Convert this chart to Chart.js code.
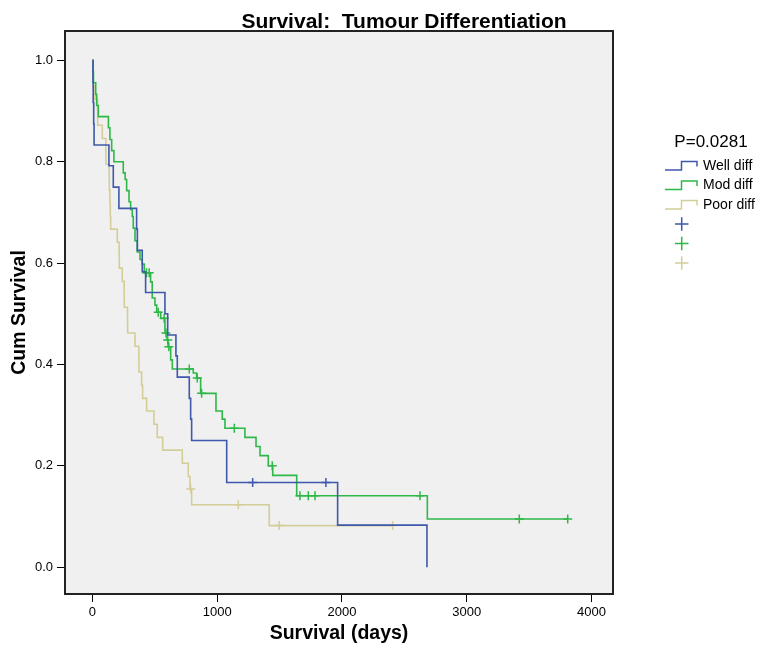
<!DOCTYPE html>
<html>
<head>
<meta charset="utf-8">
<script src="https://cdn.jsdelivr.net/npm/chart.js@4/dist/chart.umd.min.js"></script>
<style>
  html, body { margin: 0; padding: 0; background: #ffffff; }
  canvas { display: block; }
</style>
</head>
<body>
<canvas id="km" width="760" height="650"></canvas>
<script>
// Kaplan-Meier estimates: event times (days) and survival after each event
const wellDays = [0, 4, 6, 10, 13, 132, 167, 212, 354, 360, 399, 426, 581, 603, 669, 680, 776, 787, 795, 1076, 1965, 2681];
const wellSurv = [1, 0.958, 0.917, 0.875, 0.833, 0.792, 0.75, 0.708, 0.667, 0.625, 0.583, 0.542, 0.5, 0.458, 0.417, 0.375, 0.333, 0.292, 0.25, 0.167, 0.083, 0];
const wellCensDays = [1284, 1871];
const wellCensSurv = [0.167, 0.167];

const modDays = [0, 6, 8, 26, 34, 47, 128, 140, 154, 172, 247, 262, 274, 293, 306, 319, 327, 341, 359, 381, 399, 415, 466, 479, 501, 515, 547, 581, 598, 606, 627, 640, 808, 835, 867, 990, 1040, 1062, 1222, 1311, 1343, 1409, 1445, 1637, 2684, 3809];
const modSurv = [1, 0.978, 0.956, 0.933, 0.911, 0.889, 0.867, 0.844, 0.822, 0.8, 0.778, 0.765, 0.743, 0.721, 0.706, 0.692, 0.669, 0.644, 0.622, 0.607, 0.598, 0.581, 0.563, 0.531, 0.517, 0.503, 0.491, 0.462, 0.448, 0.435, 0.409, 0.391, 0.383, 0.373, 0.343, 0.308, 0.292, 0.274, 0.256, 0.238, 0.22, 0.2, 0.181, 0.141, 0.095, 0.095];
const modCensDays = [433, 455, 527, 575, 589, 603, 612, 776, 840, 875, 1137, 1441, 1663, 1730, 1784, 2625, 3421, 3809];
const modCensSurv = [0.581, 0.581, 0.503, 0.491, 0.462, 0.448, 0.435, 0.391, 0.373, 0.343, 0.274, 0.2, 0.141, 0.141, 0.141, 0.141, 0.095, 0.095];

const poorDays = [0, 3, 6, 20, 41, 42, 79, 107, 108, 134, 135, 140, 143, 146, 199, 214, 215, 239, 254, 255, 281, 282, 341, 372, 373, 394, 402, 434, 493, 519, 563, 720, 768, 782, 795, 1417, 2406];
const poorSurv = [1, 0.974, 0.949, 0.923, 0.897, 0.872, 0.846, 0.821, 0.795, 0.769, 0.744, 0.718, 0.692, 0.667, 0.641, 0.615, 0.59, 0.564, 0.538, 0.513, 0.487, 0.462, 0.436, 0.41, 0.385, 0.359, 0.333, 0.308, 0.282, 0.256, 0.231, 0.205, 0.179, 0.154, 0.123, 0.082, 0.082];
const poorCensDays = [787, 1169, 1497, 2406];
const poorCensSurv = [0.154, 0.123, 0.082, 0.082];

const groupLabels = ['Well diff', 'Mod diff', 'Poor diff'];
const xTickValues = [0, 1000, 2000, 3000, 4000];
const yTickValues = [0, 0.2, 0.4, 0.6, 0.8, 1.0];
const chartTitle = 'Survival:  Tumour Differentiation';
const xTitle = 'Survival (days)';
const yTitle = 'Cum Survival';
const pValueText = 'P=0.0281';

const FONT = '"Liberation Sans", Arial, Helvetica, sans-serif';
const groupColors = ['#3e58ac', '#2eb848', '#d3ce97'];

const groups = [
  { days: wellDays, surv: wellSurv, cDays: wellCensDays, cSurv: wellCensSurv },
  { days: modDays, surv: modSurv, cDays: modCensDays, cSurv: modCensSurv },
  { days: poorDays, surv: poorSurv, cDays: poorCensDays, cSurv: poorCensSurv }
];

const datasets = [];
groups.forEach((g, i) => {
  datasets.push({
    type: 'line',
    label: groupLabels[i],
    data: g.days.map((d, k) => ({ x: d, y: g.surv[k] })),
    borderColor: groupColors[i],
    borderWidth: 1.6,
    stepped: 'before',
    pointRadius: 0,
    fill: false,
    tension: 0
  });
});
groups.forEach((g, i) => {
  datasets.push({
    type: 'scatter',
    label: groupLabels[i] + ' censored',
    data: g.cDays.map((d, k) => ({ x: d, y: g.cSurv[k] })),
    pointStyle: 'cross',
    pointRadius: 4.5,
    borderColor: groupColors[i],
    backgroundColor: groupColors[i],
    borderWidth: 1.5,
    showLine: false
  });
});

// Plot panel background, frame, heading and the side key
const panel = {
  id: 'panel',
  beforeDraw(chart) {
    const { ctx, chartArea: a } = chart;
    ctx.save();
    ctx.fillStyle = '#f0f0f0';
    ctx.fillRect(a.left, a.top, a.right - a.left, a.bottom - a.top);
    ctx.restore();
  },
  afterDraw(chart) {
    const { ctx, chartArea: a } = chart;
    ctx.save();
    ctx.strokeStyle = '#222222';
    ctx.lineWidth = 2;
    ctx.strokeRect(a.left, a.top, a.right - a.left, a.bottom - a.top);

    ctx.fillStyle = '#000';
    ctx.textAlign = 'center';
    ctx.textBaseline = 'alphabetic';
    ctx.font = 'bold 21px ' + FONT;
    ctx.fillText(chartTitle, 404, 28);

    ctx.font = '17px ' + FONT;
    ctx.fillText(pValueText, 711, 147);

    ctx.textAlign = 'left';
    ctx.textBaseline = 'middle';
    ctx.font = '14px ' + FONT;
    const rowY = [166, 185.5, 205];
    groupLabels.forEach((lab, i) => {
      const y = rowY[i];
      ctx.strokeStyle = groupColors[i];
      ctx.lineWidth = 1.5;
      ctx.beginPath();
      ctx.moveTo(665, y + 4);
      ctx.lineTo(681.5, y + 4);
      ctx.lineTo(681.5, y - 4.5);
      ctx.lineTo(697, y - 4.5);
      ctx.lineTo(697, y + 0.5);
      ctx.stroke();
      ctx.fillStyle = '#000';
      ctx.fillText(lab, 703, y);
    });
    const crossY = [224, 243.5, 263];
    groupLabels.forEach((lab, i) => {
      const y = crossY[i];
      ctx.strokeStyle = groupColors[i];
      ctx.lineWidth = 1.5;
      ctx.beginPath();
      ctx.moveTo(675, y);
      ctx.lineTo(688.5, y);
      ctx.moveTo(681.7, y - 6.7);
      ctx.lineTo(681.7, y + 6.7);
      ctx.stroke();
    });
    ctx.restore();
  }
};

new Chart(document.getElementById('km'), {
  type: 'line',
  data: { datasets },
  plugins: [panel],
  options: {
    responsive: false,
    animation: false,
    devicePixelRatio: 1,
    events: [],
    layout: { padding: { top: 31, right: 147, left: 0, bottom: 0 } },
    plugins: {
      legend: { display: false },
      tooltip: { enabled: false },
      title: { display: false }
    },
    scales: {
      x: {
        type: 'linear',
        min: -220,
        max: 4172,
        afterBuildTicks: s => { s.ticks = xTickValues.map(v => ({ value: v })); },
        afterFit: s => { s.height = 56; },
        ticks: {
          callback: v => String(v),
          font: { size: 13, family: FONT },
          color: '#000',
          padding: 3,
          maxRotation: 0,
          autoSkip: false
        },
        grid: { display: true, drawOnChartArea: false, drawTicks: true, tickLength: 8, color: '#000', lineWidth: 1 },
        border: { display: false },
        title: {
          display: true,
          text: xTitle,
          color: '#000',
          font: { size: 19.5, weight: 'bold', family: FONT },
          padding: { top: 0, bottom: 5 }
        }
      },
      y: {
        type: 'linear',
        min: -0.053,
        max: 1.058,
        afterBuildTicks: s => { s.ticks = yTickValues.map(v => ({ value: v })); },
        afterFit: s => { s.width = 65; },
        ticks: {
          callback: v => Number(v).toFixed(1),
          font: { size: 13, family: FONT },
          color: '#000',
          padding: 4,
          autoSkip: false
        },
        grid: { display: true, drawOnChartArea: false, drawTicks: true, tickLength: 8, color: '#000', lineWidth: 1 },
        border: { display: false },
        title: {
          display: true,
          text: yTitle,
          color: '#000',
          font: { size: 19.5, weight: 'bold', family: FONT },
          padding: { top: 8, bottom: 0 }
        }
      }
    }
  }
});
</script>
</body>
</html>
